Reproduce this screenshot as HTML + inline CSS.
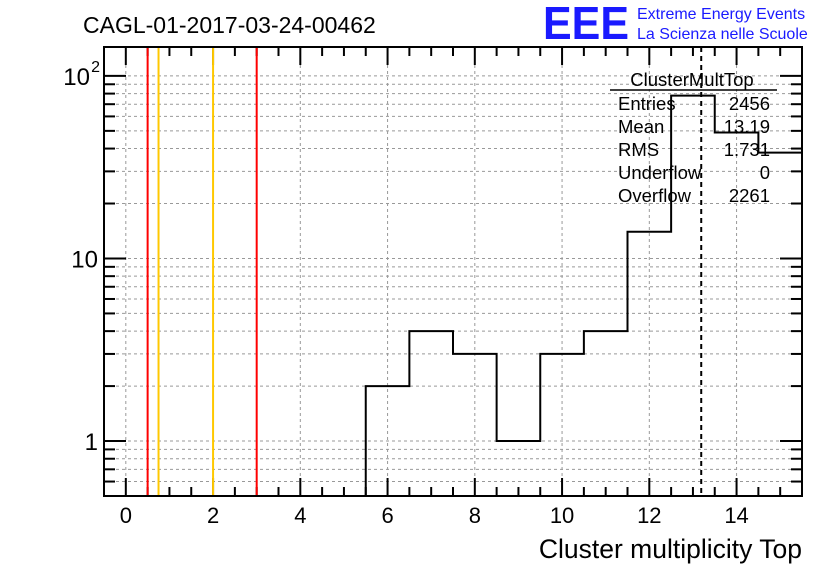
<!DOCTYPE html>
<html><head><meta charset="utf-8"><style>
body{margin:0;background:#fff;font-family:"Liberation Sans",Arial,sans-serif}
svg text{font-family:"Liberation Sans",Arial,sans-serif}
</style></head><body>
<svg id="c" width="836" height="572" xmlns="http://www.w3.org/2000/svg">
<rect width="836" height="572" fill="#fff"/>
<text x="83" y="33" font-size="23">CAGL-01-2017-03-24-00462</text>
<g>
<text x="543" y="39" font-size="46" font-weight="bold" fill="#1a1aff" textLength="86" lengthAdjust="spacingAndGlyphs">EEE</text>
<text x="637" y="19" font-size="16" fill="#1a1aff">Extreme Energy Events</text>
<text x="637" y="39" font-size="16" fill="#1a1aff">La Scienza nelle Scuole</text>
</g>
<g id="grid"></g><g id="axes"></g><g id="marks"></g><g id="frame"></g>
<g font-size="18.5">
<text x="692" y="86" text-anchor="middle">ClusterMultTop</text>
<line x1="610" y1="90" x2="777" y2="90" stroke="#000" stroke-width="1.5"/>
<text x="618" y="110">Entries</text><text x="770" y="110" text-anchor="end">2456</text>
<text x="618" y="133">Mean</text><text x="770" y="133" text-anchor="end">13.19</text>
<text x="618" y="156">RMS</text><text x="770" y="156" text-anchor="end">1.731</text>
<text x="618" y="179">Underflow</text><text x="770" y="179" text-anchor="end">0</text>
<text x="618" y="202">Overflow</text><text x="770" y="202" text-anchor="end">2261</text>
</g>
<text x="802" y="558" font-size="26.5" text-anchor="end">Cluster multiplicity Top</text>
</svg>
<script>
const binCenters=[0,1,2,3,4,5,6,7,8,9,10,11,12,13,14,15];
const counts=[0,0,0,0,0,0,2,4,3,1,3,4,14,78,49,38];
const xTicks=[0,2,4,6,8,10,12,14];
const yTickVals=[1,10,100];
const yTickLabels=["1","10","10^2"];
const redLines=[0.5,3];
const orangeLines=[0.75,2];
const meanValue=[13.19];
const L=104,R=802,T=47,B=496,XMIN=-0.5,XMAX=15.5,YMIN=0.5,YMAX=144;
const X=v=>L+(v-XMIN)/(XMAX-XMIN)*(R-L);
const Y=v=>B-(Math.log10(v)-Math.log10(YMIN))/(Math.log10(YMAX)-Math.log10(YMIN))*(B-T);
const NS="http://www.w3.org/2000/svg";
function mk(p,t,a){const e=document.createElementNS(NS,t);for(const k in a)e.setAttribute(k,a[k]);document.getElementById(p).appendChild(e);return e;}
const decades=[0.1,1,10,100];
for(const t of xTicks){const e=mk('grid','line',{x1:X(t),x2:X(t),y1:T,y2:B,stroke:'#999','stroke-dasharray':'3,3'});

}
for(const d of decades)for(let m=1;m<10;m++){const v=d*m;if(v<YMIN||v>YMAX)continue;
const e=mk('grid','line',{x1:L,x2:R,y1:Y(v),y2:Y(v),stroke:'#999','stroke-dasharray':'3,3'});

}
for(const v of redLines){const e=mk('marks','line',{x1:X(v),x2:X(v),y1:T,y2:B,stroke:'#f00','stroke-width':2});

}
for(const v of orangeLines){const e=mk('marks','line',{x1:X(v),x2:X(v),y1:T,y2:B,stroke:'#ffc800','stroke-width':2});

}
let d='';let started=false;
for(let i=0;i<binCenters.length;i++){const c=counts[i];const x0=X(binCenters[i]-0.5),x1=X(binCenters[i]+0.5);
if(c<=0){if(started){d+=`L${x0},${B}`;started=false;}continue;}
const y=Math.max(T,Y(c));
if(!started){d+=`M${x0},${B}L${x0},${y}`;started=true;}else d+=`L${x0},${y}`;
d+=`L${x1},${y}`;}
const h=mk('marks','path',{d:d,fill:'none',stroke:'#000','stroke-width':2});


for(const m of meanValue){const e=mk('marks','line',{x1:X(m),x2:X(m),y1:T,y2:B,stroke:'#000','stroke-width':2,'stroke-dasharray':'5,4'});

}
const fr=mk('frame','rect',{x:L,y:T,width:R-L,height:B-T,fill:'none',stroke:'#000','stroke-width':2});


for(let v=0;v<=15.5;v+=0.5){const maj=xTicks.includes(v);const len=maj?18:9;
mk('axes','line',{x1:X(v),x2:X(v),y1:B,y2:B-len,stroke:'#000','stroke-width':2});
mk('axes','line',{x1:X(v),x2:X(v),y1:T,y2:T+len,stroke:'#000','stroke-width':2});}
for(const t of xTicks){const e=mk('axes','text',{x:X(t),y:B+27,'font-size':22,'text-anchor':'middle'});e.textContent=t;

}
for(const d2 of decades)for(let m=1;m<10;m++){const v=d2*m;if(v<YMIN||v>YMAX)continue;const len=m===1?22:11;
mk('axes','line',{x1:L,x2:L+len,y1:Y(v),y2:Y(v),stroke:'#000','stroke-width':2});
mk('axes','line',{x1:R,x2:R-len,y1:Y(v),y2:Y(v),stroke:'#000','stroke-width':2});}
yTickVals.forEach((v,i)=>{const lab=yTickLabels[i];const e=mk('axes','text',{x:L-6,y:Y(v)+9,'font-size':24,'text-anchor':'end'});
if(lab.includes('^')){const [b,p]=lab.split('^');e.setAttribute('x',L-14);e.textContent=b;
const s=mk('axes','text',{x:L-4,y:Y(v)-4,'font-size':16,'text-anchor':'end'});s.textContent=p;

}else e.textContent=lab;

});
</script>
</body></html>
